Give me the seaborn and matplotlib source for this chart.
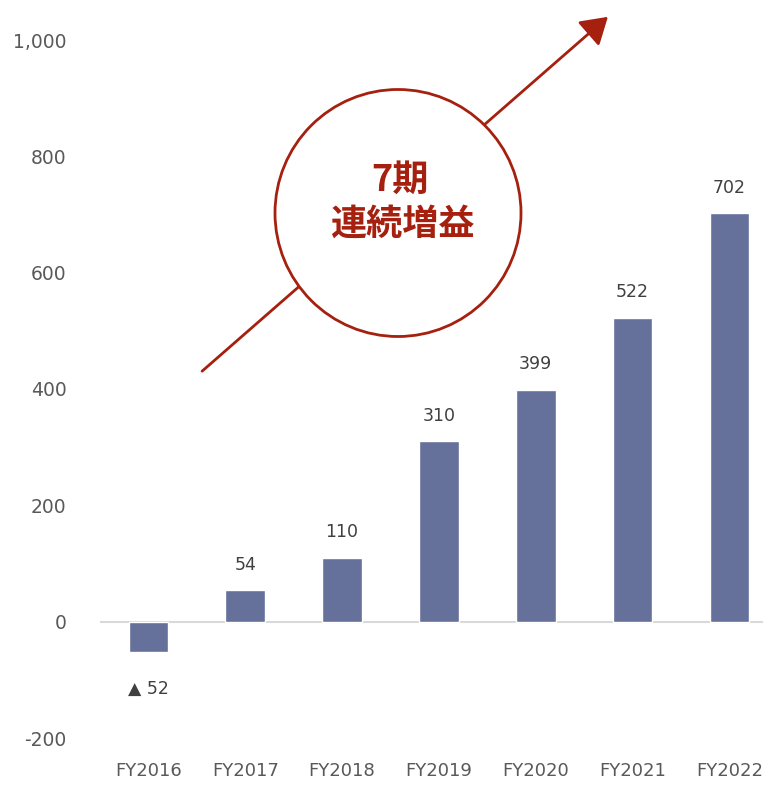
import matplotlib
matplotlib.use("Agg")
import matplotlib.pyplot as plt
import seaborn as sns
import pandas as pd
from matplotlib.patches import Ellipse, FancyArrowPatch
from matplotlib.ticker import FuncFormatter

categories = ["FY2016", "FY2017", "FY2018", "FY2019", "FY2020", "FY2021", "FY2022"]
values = [-52, 54, 110, 310, 399, 522, 702]
y_ticks = [-200, 0, 200, 400, 600, 800, 1000]

sns.set_theme(style="white")
plt.rcParams['font.family'] = ['DejaVu Sans', 'Noto Sans CJK JP']

BAR = "#65709b"
TXT = "#595959"
RED = "#a5200f"

W, H = 763, 785
fig = plt.figure(figsize=(W / 100, H / 100), dpi=100)
ax = fig.add_axes([100 / W, (H - 738) / H, 663 / W, (738 - 40) / H])

df = pd.DataFrame({"cat": categories, "val": values})
sns.barplot(data=df, x="cat", y="val", color=BAR, width=0.41, ax=ax, saturation=1)

ax.set_xlim(-0.5, -0.5 + 663 / 96.83)
ax.set_ylim(-200, 1000)
ax.set_yticks(y_ticks)
ax.yaxis.set_major_formatter(FuncFormatter(lambda v, p: f"{int(v):,}"))
ax.set_xlabel("")
ax.set_ylabel("")
for s in ax.spines.values():
    s.set_visible(False)
ax.axhline(0, color="#d9d9d9", lw=1.5, zorder=0)
ax.tick_params(axis="y", length=0, pad=24, labelsize=13.5, labelcolor=TXT)
ax.tick_params(axis="x", length=0, pad=17, labelsize=13, labelcolor=TXT)

cont = ax.containers[0]
pos_labels = [f"{v}" if v >= 0 else "" for v in values]
neg_labels = [f"▲ {abs(v)}" if v < 0 else "" for v in values]
ax.bar_label(cont, labels=pos_labels, padding=12, fontsize=12.5, color="#404040")
ax.bar_label(cont, labels=neg_labels, padding=20, fontsize=12.5, color="#404040")

# arrow behind circle
arr = FancyArrowPatch((200 / W, 1 - 373 / H), (610 / W, 1 - 15 / H),
                      transform=fig.transFigure, arrowstyle="-|>,head_length=8,head_width=5",
                      color=RED, lw=2, mutation_scale=2, zorder=5)
fig.add_artist(arr)
circ = Ellipse((398 / W, 1 - 213 / H), 246 / W, 247 / H, transform=fig.transFigure,
               facecolor="white", edgecolor=RED, lw=2, zorder=6)
fig.add_artist(circ)
fig.text(400 / W, 1 - 180 / H, "7期", ha="center", va="center", fontsize=26,
         fontweight="bold", color=RED, family=['Noto Sans CJK JP'], zorder=7)
fig.text(402 / W, 1 - 224 / H, "連続増益", ha="center", va="center", fontsize=26,
         fontweight="bold", color=RED, family=['Noto Sans CJK JP'], zorder=7)

fig.savefig("out.png", dpi=100)
